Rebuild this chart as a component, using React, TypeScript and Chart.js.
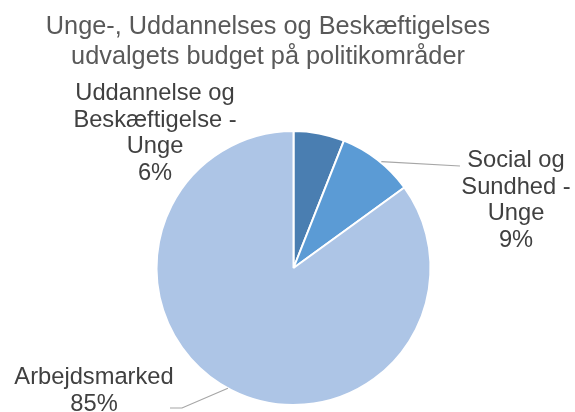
import React, { useEffect, useRef } from "react";
import { Chart, registerables } from "chart.js";

Chart.register(...registerables);

const titleLines = ["Unge-, Uddannelses og Beskæftigelses", "udvalgets budget på politikområder"];
const categories = ["Uddannelse og Beskæftigelse - Unge", "Social og Sundhed - Unge", "Arbejdsmarked"];
const labelLines = [
  ["Uddannelse og", "Beskæftigelse -", "Unge"],
  ["Social og", "Sundhed -", "Unge"],
  ["Arbejdsmarked"],
];
const values = [6, 9, 85];
const colors = ["#4a7eb1", "#5b9bd5", "#adc5e6"];

// label layout (annotation positions: center x, first baseline y)
const labelPos = [
  { x: 155, y: 100 },
  { x: 516, y: 167 },
  { x: 94, y: 384 },
];

export default function App() {
  const ref = useRef<HTMLCanvasElement | null>(null);
  useEffect(() => {
    document.body.style.margin = "0";
    const total = values.reduce((a, b) => a + b, 0);
    const labelPlugin = {
      id: "outLabels",
      afterDraw(chart: any) {
        const ctx = chart.ctx;
        ctx.save();
        // title
        ctx.fillStyle = "#595959";
        ctx.font = '25.3px "Liberation Sans", Arial, sans-serif';
        ctx.textAlign = "center";
        ctx.textBaseline = "alphabetic";
        ctx.fillText(titleLines[0], 268, 34);
        ctx.fillText(titleLines[1], 268, 64);
        // labels
        const meta = chart.getDatasetMeta(0);
        const lh = 26.5;
        ctx.font = '23.7px "Liberation Sans", Arial, sans-serif';
        ctx.fillStyle = "#404040";
        labelLines.forEach((lines, i) => {
          const pct = Math.round((values[i] / total) * 100) + "%";
          const all = [...lines, pct];
          const p = labelPos[i];
          all.forEach((t, j) => ctx.fillText(t, p.x, p.y + j * lh));
        });
        // leader lines
        ctx.strokeStyle = "#a6a6a6";
        ctx.lineWidth = 1.2;
        const arc1 = meta.data[1];
        const a1 = (arc1.startAngle + arc1.endAngle) / 2 + 0.03;
        ctx.beginPath();
        ctx.moveTo(arc1.x + Math.cos(a1) * (arc1.outerRadius + 1), arc1.y + Math.sin(a1) * (arc1.outerRadius + 1));
        ctx.lineTo(460, 166);
        ctx.stroke();
        const arc2 = meta.data[2];
        const a2 = 2.07;
        ctx.beginPath();
        ctx.moveTo(arc2.x + Math.cos(a2) * (arc2.outerRadius), arc2.y + Math.sin(a2) * (arc2.outerRadius));
        ctx.lineTo(182, 408);
        ctx.lineTo(170, 408);
        ctx.stroke();
        ctx.restore();
      },
    };
    const chart = new Chart(ref.current!, {
      type: "pie",
      data: {
        labels: categories,
        datasets: [
          {
            data: values,
            backgroundColor: colors,
            borderColor: "#ffffff",
            borderWidth: 2,
            hoverOffset: 0,
          },
        ],
      },
      options: {
        animation: false,
        responsive: false,
        layout: { padding: { top: 130, bottom: 6, left: 20, right: 8 } },
        plugins: { legend: { display: false }, tooltip: { enabled: false }, title: { display: false } },
      },
      plugins: [labelPlugin],
    });
    return () => chart.destroy();
  }, []);
  return (
    <div style={{ position: "absolute", left: 0, top: 0, width: 575, height: 412, background: "#fff" }}>
      <canvas ref={ref} width={575} height={412} style={{ width: 575, height: 412 }} />
    </div>
  );
}
